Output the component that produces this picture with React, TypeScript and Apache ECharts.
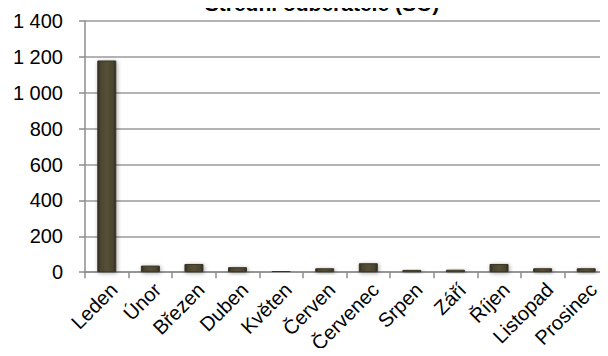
import React, { useEffect, useRef } from "react";
import * as echarts from "echarts";

const categories = ["Leden", "Únor", "Březen", "Duben", "Květen", "Červen", "Červenec", "Srpen", "Září", "Říjen", "Listopad", "Prosinec"];
const values = [1180, 37, 46, 28, 7, 22, 50, 13, 14, 46, 22, 22];
const titleText = "Střední odběratelé (SO)";

export default function App() {
  const ref = useRef<HTMLDivElement>(null);
  useEffect(() => {
    const chart = echarts.init(ref.current!, null, { renderer: "svg" });
    chart.setOption({
      animation: false,
      title: {
        text: titleText,
        left: 317,
        textAlign: "center",
        top: -12,
        textStyle: { fontFamily: "Liberation Sans", fontSize: 21, fontWeight: "bold", color: "#000" },
      },
      grid: { left: 85, top: 21, width: 532, height: 252, containLabel: false },
      xAxis: {
        type: "category",
        data: categories,
        axisLine: { lineStyle: { color: "#8c8c8c", width: 1.5 } },
        axisTick: { show: true, length: 6, lineStyle: { color: "#8c8c8c", width: 1.5 } },
        axisLabel: {
          rotate: 45,
          margin: 7,
          verticalAlign: "top",
          fontFamily: "Liberation Sans",
          fontSize: 20,
          color: "#000",
          interval: 0,
        },
      },
      yAxis: {
        type: "value",
        min: 0,
        max: 1400,
        interval: 200,
        axisLine: { show: true, lineStyle: { color: "#8c8c8c", width: 1.5 } },
        axisTick: { show: true, length: 6, lineStyle: { color: "#8c8c8c", width: 1.5 } },
        splitLine: { show: true, lineStyle: { color: "#9a9a9a", width: 1.5 } },
        axisLabel: {
          margin: 22,
          fontFamily: "Liberation Sans",
          fontSize: 20,
          color: "#000",
          formatter: (v: number) => String(v).replace(/\B(?=(\d{3})+(?!\d))/g, " "),
        },
      },
      series: [
        {
          type: "bar",
          data: values,
          barWidth: 19,
          itemStyle: {
            color: new echarts.graphic.LinearGradient(0, 0, 1, 0, [
              { offset: 0, color: "#2f2b1c" },
              { offset: 0.15, color: "#4a4430" },
              { offset: 0.5, color: "#575037" },
              { offset: 0.85, color: "#4a4430" },
              { offset: 1, color: "#2f2b1c" },
            ]),
            borderColor: "#3a3524",
            borderWidth: 1,
            shadowColor: "rgba(0,0,0,0.35)",
            shadowBlur: 4,
            shadowOffsetX: 1,
            shadowOffsetY: 1,
          },
        },
      ],
    });
    return () => chart.dispose();
  }, []);
  return <div ref={ref} style={{ width: 608, height: 356, margin: -8 }} />;
}
